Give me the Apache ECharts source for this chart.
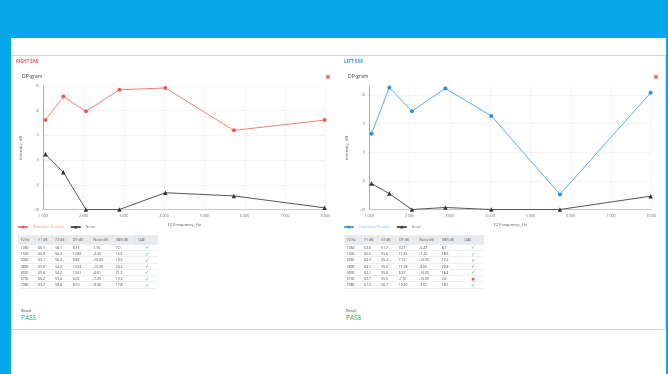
<!DOCTYPE html>
<html><head><meta charset="utf-8">
<script src="https://cdn.jsdelivr.net/npm/echarts@6/dist/echarts.min.js"></script>
<style>
html,body{margin:0;padding:0;width:668px;height:374px;overflow:hidden;background:#05a9ea;font-family:"Open Sans",sans-serif;}
#page{position:absolute;left:11px;top:38px;width:655px;height:336px;background:#fff;}
#panel{position:absolute;left:11px;top:55px;width:655px;height:275px;border:1px solid #d6d6d6;box-sizing:border-box;background:#fff;}
.chart{position:absolute;top:56px;width:322px;height:180px;}
#cl{left:11px} #cr{left:337px}
.tbl{position:absolute;top:234.5px;transform:scale(.5);transform-origin:0 0;border-collapse:collapse;font-size:6.8px;color:#444;table-layout:fixed;width:278px;font-family:"Open Sans",sans-serif;}
.tbl th,.tbl td{border:1px solid #dcdcdc;padding:0 0 0 5px;text-align:left;white-space:nowrap;overflow:hidden;}
.tbl th{height:17px;background:#e8ebee;font-weight:normal;color:#555;}
.tbl td{height:11.5px;line-height:11.5px;border-left:none;border-right:none;}
.tbl td.ok{color:#45b04f;text-align:center;font-size:10px;padding:0;}
.tbl td.bad{color:#e5484d;text-align:center;font-size:9px;padding:0;}
.res{position:absolute;top:308px;transform:scale(.5);transform-origin:0 0;}
.res .l{font-size:7px;color:#333;line-height:10px;}
.res .p{font-size:13px;color:#27a86b;line-height:18px;}
</style></head>
<body>
<div id="page"></div>
<div id="panel"></div>
<div id="cl" class="chart"></div>
<div id="cr" class="chart"></div>
<table id="tl" class="tbl" style="left:17.5px"></table>
<table id="tr" class="tbl" style="left:344px"></table>
<div class="res" style="left:20.5px"><div class="l">Result</div><div class="p">PASS</div></div>
<div class="res" style="left:345.5px"><div class="l">Result</div><div class="p">PASS</div></div>
<script>
// ---- data ----
const xTicks = [1000, 2000, 3000, 4000, 5000, 6000, 7000, 8000];
const tableHeaders = ['F2 Hz', 'F1 dB', 'F2 dB', 'DP dB', 'Noise dB', 'SNR dB', 'OAE'];

// RIGHT EAR
const freqR  = [1060, 1500, 2060, 2890, 4030, 5730, 7980];
const f1R    = [66.1, 65.9, 65.1, 65.0, 65.6, 66.2, 65.7];
const f2R    = [58.1, 56.4, 56.2, 54.2, 54.2, 53.4, 58.8];
const dpR    = [8.13, 12.85, 9.89, 14.23, 14.61, 6.02, 8.10];
const noiseR = [1.16, -2.45, -10.00, -10.00, -6.61, -7.25, -9.66];
const snrR   = [7.0, 15.3, 19.9, 24.2, 21.2, 13.3, 17.8];
const oaeR   = [1, 1, 1, 1, 1, 1, 1];

// LEFT EAR
const freqL  = [1060, 1500, 2060, 2890, 4030, 5730, 7980];
const f1L    = [63.6, 65.5, 64.3, 64.1, 62.1, 62.7, 61.3];
const f2L    = [51.7, 55.6, 55.2, 55.0, 55.6, 55.5, 56.7];
const dpL    = [3.27, 11.35, 7.19, 11.18, 6.37, -7.37, 10.40];
const noiseL = [-5.47, -7.22, -10.00, -9.65, -10.00, -10.00, -7.67];
const snrL   = [8.7, 18.6, 17.2, 20.8, 16.4, 2.6, 18.1];
const oaeL   = [1, 1, 1, 1, 1, 0, 1];

function pairs(xs, ys){ return xs.map((x,i)=>[x, ys[i]]); }
function fmtX(v){ return (v/1000) + ' 000'; }

function makeOption(c){
  return {
    animation:false,
    textStyle:{fontFamily:'Open Sans'},
    title:[
      {text:c.ear, left:c.earX, top:3.5, padding:0, textStyle:{fontSize:4.3, fontWeight:'bold', color:c.earColor}},
      {text:'DP-gram', left:11, top:18.5, padding:0, textStyle:{fontSize:5, fontWeight:'normal', color:'#444'}}
    ],
    graphic:[
      {type:'rect', left:c.iconX, top:18.5, shape:{width:5, height:5}, style:{fill:'#f1c6c4'}},
      {type:'rect', left:c.iconX+1.3, top:19.8, shape:{width:2.4, height:2.4}, style:{fill:'#d9534f'}}
    ],
    legend:{
      left:6, top:169, padding:0, itemWidth:10, itemHeight:4, itemGap:6,
      textStyle:{fontSize:3.6},
      data:[{name:'Distortion Product', textStyle:{color:c.legendColor}}, {name:'Noise', textStyle:{color:'#777'}}]
    },
    grid:{left:c.gridLeft, top:30, width:c.gridW, height:123.5},
    xAxis:{
      type:'value', min:1000, max:8000, interval:1000,
      name:'F2 Frequency, Hz', nameLocation:'middle', nameGap:12,
      nameTextStyle:{fontSize:4.2, color:'#555'},
      axisLine:{onZero:false, lineStyle:{color:'#c8c8c8', width:1}}, axisTick:{show:false},
      axisLabel:{fontSize:3.6, color:'#666', margin:4, formatter:fmtX},
      splitLine:{show:true, lineStyle:{color:'#ececec', width:0.6}}
    },
    yAxis:{
      type:'value', min:-10, max:c.yMax, interval:5,
      name:'Intensity, dB', nameLocation:'middle', nameGap:15.5,
      nameTextStyle:{fontSize:4.2, color:'#555'},
      axisLine:{show:true, onZero:false, lineStyle:{color:'#aaaaaa', width:1}}, axisTick:{show:false},
      axisLabel:{fontSize:3.6, color:'#666', margin:4, showMaxLabel:c.showMax},
      splitLine:{show:true, showMaxLine:c.showMax, lineStyle:{color:'#ececec', width:0.6}}
    },
    series:[
      {name:'Distortion Product', type:'line', data:pairs(c.freq, c.dp), symbol:'circle', symbolSize:4,
       lineStyle:{width:1, color:c.dpColor}, itemStyle:{color:c.dpMarker}},
      {name:'Noise', type:'line', data:pairs(c.freq, c.noise), symbol:'triangle', symbolSize:4.5,
       lineStyle:{width:1, color:'#555'}, itemStyle:{color:'#333'}}
    ]
  };
}

echarts.init(document.getElementById('cl')).setOption(makeOption({
  ear:'RIGHT EAR', earX:5, earColor:'#e8594f', iconX:314.5, legendColor:'#f28b82',
  gridLeft:25, gridW:295, yMax:15, showMax:true, freq:freqR, dp:dpR, noise:noiseR,
  dpColor:'#f37f76', dpMarker:'#ea5b57'
}));
echarts.init(document.getElementById('cr')).setOption(makeOption({
  ear:'LEFT EAR', earX:7, earColor:'#3a9ae0', iconX:316.5, legendColor:'#7ab8ea',
  gridLeft:24.5, gridW:296.5, yMax:11.6, showMax:false, freq:freqL, dp:dpL, noise:noiseL,
  dpColor:'#5aaae6', dpMarker:'#2f8fd8'
}));

function buildTable(id, cols, oae){
  const t = document.getElementById(id);
  const widths = [35, 34, 35, 41, 45, 45, 43];
  let h = '<colgroup>' + widths.map(w=>'<col style="width:'+w+'px">').join('') + '</colgroup>';
  h += '<tr>' + tableHeaders.map(x=>'<th>'+x+'</th>').join('') + '</tr>';
  for (let i=0;i<cols[0].length;i++){
    h += '<tr>' + cols.map(c=>'<td>'+c[i]+'</td>').join('') +
      (oae[i] ? '<td class="ok">✓</td>' : '<td class="bad">✖</td>') + '</tr>';
  }
  t.innerHTML = h;
}
const fix2 = a => a.map(v=>v.toFixed(2));
const fix1 = a => a.map(v=>v.toFixed(1));
buildTable('tl', [freqR, fix1(f1R), fix1(f2R), fix2(dpR), fix2(noiseR), fix1(snrR)], oaeR);
buildTable('tr', [freqL, fix1(f1L), fix1(f2L), fix2(dpL), fix2(noiseL), fix1(snrL)], oaeL);
</script>
</body></html>
